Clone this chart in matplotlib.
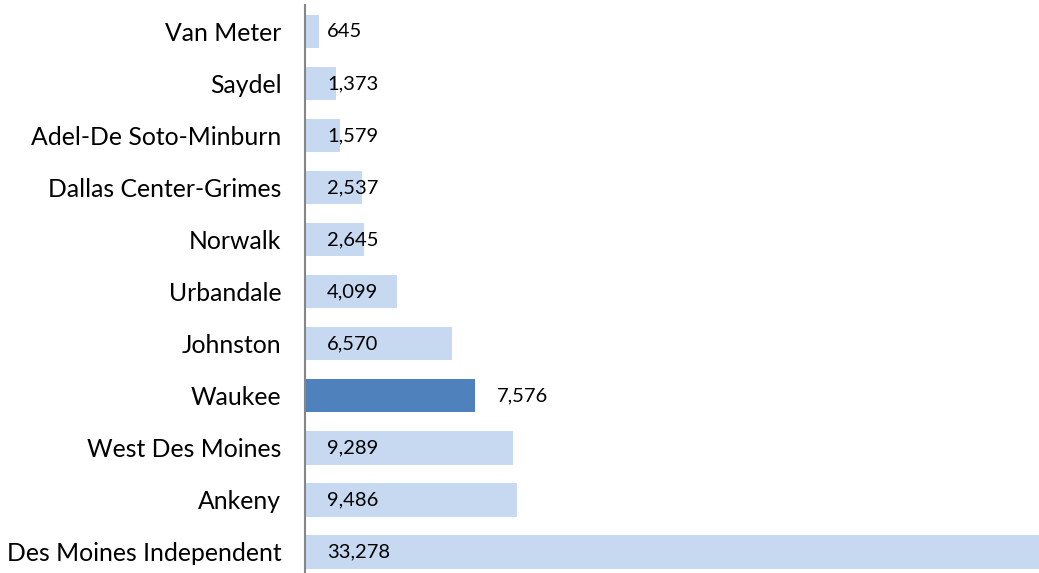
import matplotlib
matplotlib.use("Agg")
import matplotlib.pyplot as plt

categories = ["Van Meter", "Saydel", "Adel-De Soto-Minburn", "Dallas Center-Grimes",
              "Norwalk", "Urbandale", "Johnston", "Waukee", "West Des Moines",
              "Ankeny", "Des Moines Independent"]
values = [645, 1373, 1579, 2537, 2645, 4099, 6570, 7576, 9289, 9486, 33278]
highlight = "Waukee"

light = "#C6D9F1"
dark = "#4F81BD"

W, H = 1039, 573
fig = plt.figure(figsize=(W / 100, H / 100), dpi=100)
ax = fig.add_axes([305 / W, -5 / H, 734 / W, 572.5 / H])

n = len(categories)
ys = list(range(n))
colors = [dark if c == highlight else light for c in categories]
ax.barh(ys, values, height=0.64, color=colors, zorder=2)
ax.set_ylim(n - 0.5, -0.5)
ax.set_xlim(0, 734 / 0.0224)

ax.set_yticks(ys)
ax.set_yticklabels(categories, fontsize=17.8, family="Lato", color="#000000")
ax.tick_params(axis="y", length=0, pad=17)
ax.set_xticks([])
for s in ["top", "right", "bottom"]:
    ax.spines[s].set_visible(False)
ax.spines["left"].set_color("#868686")
ax.spines["left"].set_linewidth(1.5)
ax.spines["left"].set_zorder(3)

for y, v, c in zip(ys, values, categories):
    x = v if c == highlight else 0
    ax.annotate(f"{v:,}", xy=(x, y), xytext=(22, 0), textcoords="offset pixels",
                ha="left", va="center", fontsize=14.5, family="Lato", color="#000000",
                zorder=4)

fig.savefig("out.png", dpi=100)
